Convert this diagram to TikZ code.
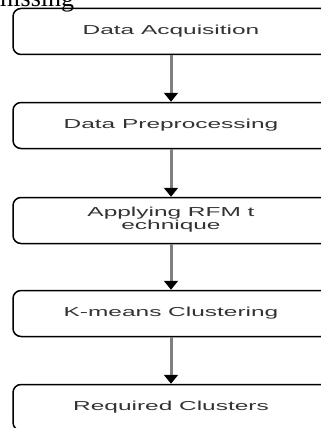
\documentclass[tikz,border=0pt]{standalone}
\usepackage{fontspec}
\usepackage{graphicx}
\setmainfont{Liberation Sans}
\newfontfamily\serifface{Liberation Serif}
\usetikzlibrary{arrows.meta}
\definecolor{labelgray}{HTML}{333333}
\definecolor{shaftgray}{HTML}{808080}
% wide, horizontally stretched label text (one or more lines)
\newcommand{\widelabel}[1]{\scalebox{1.88}[1]{\begin{tabular}{@{}c@{}}#1\end{tabular}}}

\begin{document}
\begin{tikzpicture}[x=1pt,y=-1pt,
  stage/.style={draw=black, line width=1.5pt, rounded corners=8pt,
    minimum width=316pt, minimum height=46pt, inner sep=0pt,
    text=labelgray, font=\fontsize{13}{13}\selectfont},
  flow/.style={draw=shaftgray, line width=3pt,
    -{Triangle[width=14pt,length=9pt,color=black]}}]
\useasboundingbox (0,0) rectangle (321,428);
\fill[white] (0,0) rectangle (321,428);
\begin{scope}
\clip (0,0) rectangle (321,428);
\node[font=\serifface\fontsize{26}{26}\selectfont, anchor=base west, inner sep=0pt] (note) at (-7,6.5) {missing};
\node[stage] (s1) at (171,31.5) {\widelabel{Data Acquisition}};
\node[stage] (s2) at (171,125.5) {\widelabel{Data Preprocessing}};
\node[stage] (s3) at (171,220.5) {\widelabel{Applying RFM t\\echnique}};
\node[stage] (s4) at (171,313.5) {\widelabel{K-means Clustering}};
\node[stage] (s5) at (171,407.5) {\widelabel{Required Clusters}};
\draw[flow] (s1.south) -- (s2.north);
\draw[flow] (s2.south) -- (s3.north);
\draw[flow] (s3.south) -- (s4.north);
\draw[flow] (s4.south) -- (s5.north);
\end{scope}
\end{tikzpicture}
\end{document}
